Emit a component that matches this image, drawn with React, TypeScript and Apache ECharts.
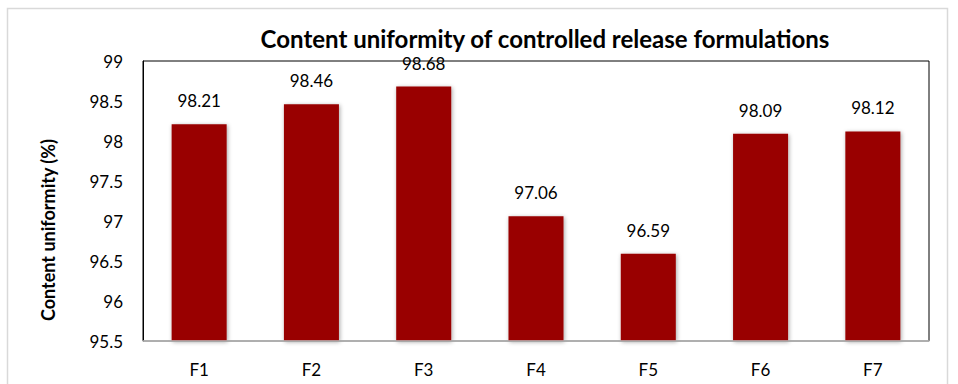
import React, { useEffect, useRef } from "react";
import * as echarts from "echarts";

const categories = ["F1", "F2", "F3", "F4", "F5", "F6", "F7"];
const uniformity = [98.21, 98.46, 98.68, 97.06, 96.59, 98.09, 98.12];
const yMin = 95.5;
const yMax = 99;
const yStep = 0.5;

const FONT = "Lato, 'Open Sans', sans-serif";

export default function App() {
  const ref = useRef<HTMLDivElement>(null);

  useEffect(() => {
    if (!ref.current) return;
    const chart = echarts.init(ref.current, null, { renderer: "svg" });
    chart.setOption({
      animation: false,
      backgroundColor: "#ffffff",
      textStyle: { fontFamily: FONT },
      title: {
        text: "Content uniformity of controlled release formulations",
        left: 540,
        top: 21,
        textAlign: "center",
        textStyle: { fontFamily: FONT, fontWeight: "bold", fontSize: 24, color: "#000" },
      },
      graphic: [
        {
          type: "rect",
          shape: { x: 7.5, y: 8.5, width: 940, height: 400 },
          style: { fill: "none", stroke: "#d9d9d9", lineWidth: 1.5 },
          silent: true,
        },
      ],
      grid: {
        left: 143,
        right: 29,
        top: 61,
        bottom: 43,
        show: true,
        borderColor: "#000",
        borderWidth: 1,
      },
      xAxis: {
        type: "category",
        data: categories,
        axisLine: { show: true, lineStyle: { color: "#bfbfbf", width: 1.5 } },
        axisTick: { show: false },
        axisLabel: { fontFamily: FONT, fontSize: 17, color: "#000", margin: 20 },
        z: 5,
      },
      yAxis: {
        type: "value",
        min: yMin,
        max: yMax,
        interval: yStep,
        name: "Content uniformity (%)",
        nameLocation: "middle",
        nameGap: 86,
        nameTextStyle: {
          fontFamily: FONT,
          fontWeight: "bold",
          fontSize: 18,
          color: "#000",
          padding: [0, 0, 0, -58],
        },
        axisLine: { show: true, lineStyle: { color: "#000", width: 1 } },
        axisTick: { show: false },
        splitLine: { show: false },
        axisLabel: { fontFamily: FONT, fontSize: 17, color: "#000", margin: 20 },
      },
      series: [
        {
          type: "bar",
          data: uniformity,
          barWidth: "49%",
          itemStyle: {
            color: "#990000",
            shadowColor: "rgba(0,0,0,0.35)",
            shadowBlur: 4,
            shadowOffsetX: 1,
            shadowOffsetY: 1,
          },
          label: {
            show: true,
            position: "top",
            distance: 15,
            fontFamily: FONT,
            fontSize: 17,
            color: "#000",
            formatter: (p: any) => p.value.toFixed(2),
          },
        },
      ],
    });
    return () => chart.dispose();
  }, []);

  return (
    <div
      ref={ref}
      style={{ position: "fixed", left: 0, top: 0, width: 958, height: 384 }}
    />
  );
}
